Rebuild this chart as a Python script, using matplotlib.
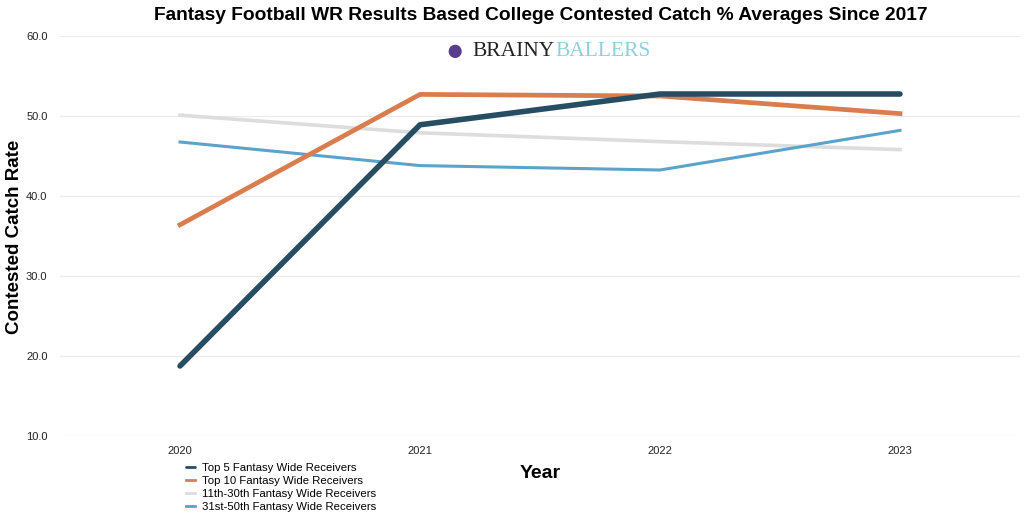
import matplotlib
matplotlib.use('Agg')
import matplotlib.pyplot as plt

# data
years = [2020, 2021, 2022, 2023]
top5 = [18.75, 48.9, 52.75, 52.75]
top10 = [36.4, 52.7, 52.5, 50.3]
rank11_30 = [50.1, 47.9, 46.8, 45.8]
rank31_50 = [46.75, 43.8, 43.25, 48.2]

series_names = ['Top 5 Fantasy Wide Receivers', 'Top 10 Fantasy Wide Receivers',
                '11th-30th Fantasy Wide Receivers', '31st-50th Fantasy Wide Receivers']
yticks = [10, 20, 30, 40, 50, 60]

plt.rcParams['font.family'] = ['Liberation Sans', 'DejaVu Sans']

fig = plt.figure(figsize=(10.24, 5.14), dpi=100)
ax = fig.add_axes([60 / 1024, 1 - 436 / 514, 960 / 1024, 400 / 514])

# draw order: light ones below, dark top-5 on top
ax.plot(years, rank11_30, color='#dddddd', lw=2.6, label=series_names[2], zorder=2)
ax.plot(years, rank31_50, color='#5ba3c9', lw=2.2, label=series_names[3], zorder=3)
ax.plot(years, top10, color='#d97d4e', lw=3.4, label=series_names[1], zorder=4)
ax.plot(years, top5, color='#264d62', lw=4.0, label=series_names[0], zorder=5,
        solid_capstyle='round')

ax.set_xlim(2019.5, 2023.5)
ax.set_ylim(10, 60)
ax.set_xticks(years)
ax.set_xticklabels([str(y) for y in years])
ax.set_yticks(yticks)
ax.set_yticklabels([f'{v:.1f}' for v in yticks])
ax.tick_params(length=0, labelsize=8, colors='#222222')
ax.tick_params(axis='y', pad=9)
ax.tick_params(axis='x', pad=7)
ax.grid(axis='y', color='#ebebeb', lw=0.9)
ax.set_axisbelow(True)
for s in ax.spines.values():
    s.set_visible(False)

# y label placed by hand so it sits where the reference has it
fig.text(15 / 1024, 1 - 237 / 514, 'Contested Catch Rate', rotation=90,
         ha='center', va='center', fontsize=13.5, fontweight='bold')
fig.text(540 / 1024, 1 - 473 / 514, 'Year', ha='center', va='center',
         fontsize=14, fontweight='bold')
fig.suptitle('Fantasy Football WR Results Based College Contested Catch % Averages Since 2017',
             x=541 / 1024, y=1 - 15 / 514, va='center', fontsize=13.8, fontweight='bold')

# legend in the order of the reference
h, l = ax.get_legend_handles_labels()
order = [3, 2, 0, 1]
fig.legend([h[i] for i in order], [l[i] for i in order], loc='upper left',
           bbox_to_anchor=(180 / 1024, 1 - 457 / 514), frameon=False, fontsize=8.2,
           handlelength=0.8, handletextpad=0.6, labelspacing=0.28, borderpad=0)
for line in fig.legends[0].get_lines():
    line.set_linewidth(2)

# brand mark
fig.text(455 / 1024, 1 - 52 / 514, '\u25cf', color='#5a3d8a', fontsize=22,
         ha='center', va='center')
fig.text(472 / 1024, 1 - 52 / 514, 'BRAINY', color='#222222', fontsize=15.5,
         family='Liberation Serif', ha='left', va='center')
fig.text(555 / 1024, 1 - 52 / 514, 'BALLERS', color='#8fcfdc', fontsize=15.5,
         family='Liberation Serif', ha='left', va='center')

fig.savefig('out.png', dpi=100)
